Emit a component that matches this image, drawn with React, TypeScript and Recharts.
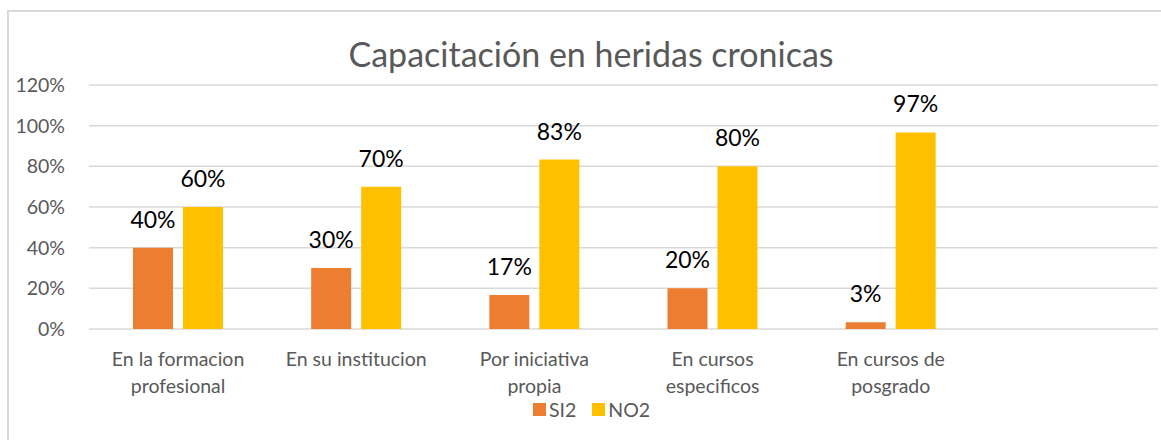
import React from 'react';
import { Bar, BarChart, CartesianGrid, LabelList, Text, XAxis, YAxis } from 'recharts';

const categories = ['En la formacion profesional', 'En su institucion', 'Por iniciativa propia', 'En cursos especificos', 'En cursos de posgrado', ''];
const si2 = [0.4, 0.3, 0.167, 0.2, 0.033, null];
const no2 = [0.6, 0.7, 0.833, 0.8, 0.967, null];
const yTicks = [0, 0.2, 0.4, 0.6, 0.8, 1, 1.2];

const series = [
	{ key: 'SI2', color: '#ed7d31' },
	{ key: 'NO2', color: '#ffc000' }
];

const data = categories.map((name, i) => ({ name, SI2: si2[i], NO2: no2[i] }));

const FONT = 'Lato, "Open Sans", sans-serif';
const pct = (v: any) => (typeof v === 'number' ? `${Math.round(v * 100)}%` : '');

const CategoryTick = (props: any) => {
	const { x, y, payload } = props;
	return (
		<Text
			x={x}
			y={y}
			width={135}
			textAnchor="middle"
			verticalAnchor="start"
			lineHeight={27}
			fill="#595959"
			style={{ fontSize: 19.5, fontFamily: FONT }}
		>
			{payload.value}
		</Text>
	);
};

export default function App() {
	return (
		<div style={{ position: 'absolute', left: 0, top: 0, width: 1161, height: 440, background: '#fff', overflow: 'hidden' }}>
			<div style={{ position: 'absolute', left: 7, top: 10, width: 1200, height: 500, borderLeft: '2px solid #d9d9d9', borderTop: '2px solid #d9d9d9' }} />
			<div style={{ position: 'absolute', left: 0, top: 33, width: 1182, textAlign: 'center', fontFamily: FONT, fontSize: 34, color: '#595959' }}>
				Capacitación en heridas cronicas
			</div>
			<BarChart width={1161} height={440} data={data} margin={{ top: 85, right: 3, left: 0, bottom: 51 }} barGap={10} barCategoryGap={44} style={{ position: 'absolute', left: 0, top: 0 }}>
				<CartesianGrid vertical={false} stroke="#d9d9d9" strokeWidth={1.5} />
				<XAxis dataKey="name" axisLine={false} tickLine={false} tickSize={0} tickMargin={23} height={60} interval={0} tick={<CategoryTick />} />
				<YAxis
					domain={[0, 1.2]}
					ticks={yTicks}
					tickFormatter={pct}
					axisLine={false}
					tickLine={false}
					tickSize={0}
					tickMargin={24}
					width={89}
					tick={{ fontSize: 19.5, fill: '#595959', fontFamily: FONT }}
				/>
				{series.map(s => (
					<Bar key={s.key} dataKey={s.key} fill={s.color} isAnimationActive={false}>
						<LabelList dataKey={s.key} position="top" offset={20} formatter={pct} fontSize={23} fill="#000" fontFamily={FONT} />
					</Bar>
				))}
			</BarChart>
			<div style={{ position: 'absolute', left: 533, top: 398, display: 'flex', alignItems: 'center', fontFamily: FONT, fontSize: 19.5, color: '#595959' }}>
				{series.map(s => (
					<span key={s.key} style={{ display: 'flex', alignItems: 'center', marginRight: 16 }}>
						<span style={{ display: 'inline-block', width: 13, height: 13, background: s.color, marginRight: 3 }} />
						{s.key}
					</span>
				))}
			</div>
		</div>
	);
}
